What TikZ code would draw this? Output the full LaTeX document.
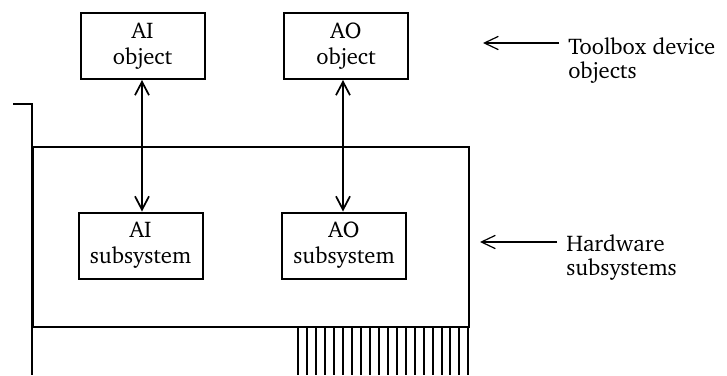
\documentclass[tikz,border=0pt]{standalone}
\usepackage[T1]{fontenc}
\usepackage{charter}
\usetikzlibrary{arrows.meta,positioning}

\tikzset{
  blk/.style={draw, line width=1.5pt, minimum width=93pt, minimum height=49.5pt,
    align=center, inner sep=2pt, font=\fontsize{17}{19.5}\selectfont},
  lbl/.style={anchor=base west, align=left, inner xsep=6.75pt, inner ysep=0pt,
    font=\fontsize{17}{18}\selectfont},
  barb/.style={{Straight Barb[length=10pt,width=10.5pt]}-{Straight Barb[length=10pt,width=10.5pt]},
    line width=1.3pt},
  pointer/.style={-{Straight Barb[length=10.5pt,width=10pt]}, line width=0.9pt},
  board/.style={line width=1.6pt}
}

\begin{document}
\begin{tikzpicture}[x=0.75pt, y=-0.75pt]
\useasboundingbox (0,0) rectangle (727,375);

\draw[board] (13,104) -- (32,104) -- (32,375);
\draw[board] (33,147) rectangle (469,327);
\foreach \p in {0, ..., 19} {
\draw[line width=1.5pt] (298+\p*8.97,327) -- (298+\p*8.97,375);
}

\node[blk] (aiobj) at (142.5,46) {AI\\object};
\node[blk] (aoobj) at (346,46) {AO\\object};
\node[blk] (aisub) at (140.5,245.5) {AI\\subsystem};
\node[blk] (aosub) at (344,245.5) {AO\\subsystem};

\draw[barb] (aiobj.south -| 142,0) -- (aisub.north -| 142,0);
\draw[barb] (aoobj.south -| 343,0) -- (aosub.north -| 343,0);

\coordinate (tbtip) at (483,43);
\coordinate (hwtip) at (480,242);
\node[lbl] (tblbl) at (559,78) {Toolbox device\\objects};
\node[lbl] (hwlbl) at (557,275) {Hardware\\subsystems};

\draw[pointer] (tblbl.west |- tbtip) -- (tbtip);
\draw[pointer] (hwlbl.west |- hwtip) -- (hwtip);
\end{tikzpicture}
\end{document}
